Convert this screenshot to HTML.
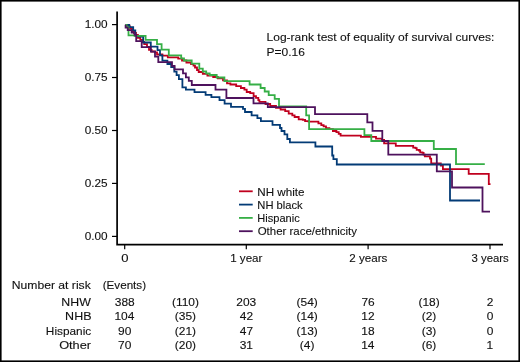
<!DOCTYPE html>
<html><head><meta charset="utf-8"><style>
html,body{margin:0;padding:0;background:#fff;}
body{width:520px;height:362px;overflow:hidden;}
svg{display:block;will-change:transform;}
text{font-family:"Liberation Sans",sans-serif;font-size:11.6px;fill:#111;stroke:#111;stroke-width:0.12px;}
</style></head><body>
<svg width="520" height="362" viewBox="0 0 520 362">
<path d="M117.1 11.6 L117.1 244.6 L503 244.6" fill="none" stroke="#000" stroke-width="1.7" stroke-linejoin="miter"/>
<line x1="112" y1="24.6" x2="117.1" y2="24.6" stroke="#000" stroke-width="1.2"/>
<line x1="112" y1="77.5" x2="117.1" y2="77.5" stroke="#000" stroke-width="1.2"/>
<line x1="112" y1="130.5" x2="117.1" y2="130.5" stroke="#000" stroke-width="1.2"/>
<line x1="112" y1="183.4" x2="117.1" y2="183.4" stroke="#000" stroke-width="1.2"/>
<line x1="112" y1="236.4" x2="117.1" y2="236.4" stroke="#000" stroke-width="1.2"/>
<line x1="124.7" y1="244.6" x2="124.7" y2="249.3" stroke="#000" stroke-width="1.2"/>
<line x1="246.3" y1="244.6" x2="246.3" y2="249.3" stroke="#000" stroke-width="1.2"/>
<line x1="368.1" y1="244.6" x2="368.1" y2="249.3" stroke="#000" stroke-width="1.2"/>
<line x1="490.0" y1="244.6" x2="490.0" y2="249.3" stroke="#000" stroke-width="1.2"/>
<path d="M125.6 24.8 L128.0 24.8 L128.0 26.5 L130.0 26.5 L130.0 28.5 L132.0 28.5 L132.0 31.0 L134.0 31.0 L134.0 33.0 L136.0 33.0 L136.0 35.0 L137.9 35.0 L137.9 37.8 L140.3 37.8 L140.3 39.8 L142.5 39.8 L142.5 42.0 L144.2 42.0 L144.2 44.1 L147.0 44.1 L147.0 47.0 L149.0 47.0 L149.0 49.9 L151.6 49.9 L151.6 51.5 L155.0 51.5 L155.0 52.4 L157.0 52.4 L157.0 54.5 L162.4 54.5 L162.4 55.7 L167.8 55.7 L167.8 57.4 L178.2 57.4 L178.2 58.6 L182.0 58.6 L182.0 60.5 L186.4 60.5 L186.4 62.5 L191.0 62.5 L191.0 64.2 L193.5 64.2 L193.5 65.7 L195.0 65.7 L195.0 67.5 L197.0 67.5 L197.0 70.0 L198.7 70.0 L198.7 72.0 L202.8 72.0 L202.8 73.8 L207.4 73.8 L207.4 75.6 L213.2 75.6 L213.2 77.0 L217.8 77.0 L217.8 78.3 L223.0 78.3 L223.0 80.3 L227.0 80.3 L227.0 83.3 L230.4 83.3 L230.4 84.5 L236.2 84.5 L236.2 86.2 L240.9 86.2 L240.9 88.0 L244.4 88.0 L244.4 89.7 L246.7 89.7 L246.7 92.0 L250.2 92.0 L250.2 93.2 L253.6 93.2 L253.6 96.1 L256.0 96.1 L256.0 97.8 L258.3 97.8 L258.3 100.2 L259.4 100.2 L259.4 101.9 L265.5 101.9 L265.5 104.0 L270.2 104.0 L270.2 106.0 L276.0 106.0 L276.0 107.8 L280.6 107.8 L280.6 109.5 L285.2 109.5 L285.2 111.2 L288.7 111.2 L288.7 113.6 L292.3 113.6 L292.3 115.3 L294.6 115.3 L294.6 117.0 L298.7 117.0 L298.7 119.4 L302.8 119.4 L302.8 119.9 L305.1 119.9 L305.1 121.1 L308.6 121.1 L308.6 121.7 L315.5 121.7 L318.4 121.7 L318.4 123.4 L321.3 123.4 L321.3 125.2 L323.6 125.2 L323.6 126.3 L326.0 126.3 L326.0 128.1 L329.4 128.1 L329.4 129.2 L332.9 129.2 L332.9 131.0 L336.4 131.0 L336.4 132.1 L338.7 132.1 L338.7 133.9 L340.6 133.9 L340.6 135.7 L360.9 135.7 L360.9 136.9 L373.6 136.9 L376.0 136.9 L376.0 138.6 L381.8 138.6 L381.8 139.8 L384.1 139.8 L384.1 143.3 L395.8 143.3 L395.8 143.6 L395.8 145.9 L412.0 145.9 L413.2 145.9 L413.2 147.6 L415.5 147.6 L415.5 148.2 L416.7 148.2 L416.7 149.9 L419.0 149.9 L419.0 150.5 L420.2 150.5 L420.2 152.3 L422.5 152.3 L422.5 152.8 L423.6 152.8 L423.6 154.6 L424.8 154.6 L424.8 156.3 L430.0 156.3 L430.0 158.6 L431.2 158.6 L431.2 163.3 L440.8 163.3 L440.8 165.7 L442.9 165.7 L442.9 166.4 L442.9 169.1 L468.7 169.1 L468.7 173.8 L488.8 173.8 L488.8 184.2 L490.5 184.2" fill="none" stroke="#C0001E" stroke-width="1.8" stroke-linejoin="miter" stroke-linecap="butt"/>
<path d="M125.6 24.8 L129.3 24.8 L129.3 27.2 L133.2 27.2 L133.2 30.4 L135.3 30.4 L135.3 35.9 L139.0 35.9 L139.0 36.5 L143.2 36.5 L143.2 42.5 L150.8 42.5 L150.8 46.6 L157.5 46.6 L157.5 50.1 L160.0 50.1 L160.0 55.3 L162.4 55.3 L162.4 60.7 L167.4 60.7 L167.4 64.0 L171.2 64.0 L171.2 67.2 L174.3 67.2 L174.3 71.6 L176.6 71.6 L176.6 75.1 L178.9 75.1 L178.9 79.1 L182.4 79.1 L182.4 87.3 L185.9 87.3 L185.9 89.6 L194.5 89.6 L194.5 92.2 L205.6 92.2 L205.6 94.8 L211.4 94.8 L211.4 97.1 L219.5 97.1 L219.5 100.2 L224.6 100.2 L224.6 103.6 L231.0 103.6 L231.0 106.9 L243.0 106.9 L243.0 108.9 L245.0 108.9 L245.0 112.0 L251.6 112.0 L251.6 115.3 L257.4 115.3 L257.4 118.2 L260.9 118.2 L260.9 121.1 L272.5 121.1 L272.5 124.9 L280.0 124.9 L280.0 128.0 L281.5 128.0 L281.5 131.0 L284.5 131.0 L284.5 134.4 L287.3 134.4 L287.3 139.0 L289.9 139.0 L289.9 142.4 L315.4 142.4 L315.4 146.5 L332.2 146.5 L332.2 155.5 L333.4 155.5 L333.4 159.2 L336.8 159.2 L336.8 164.5 L450.0 164.5 L450.0 200.5 L480.0 200.5" fill="none" stroke="#033B76" stroke-width="1.8" stroke-linejoin="miter" stroke-linecap="butt"/>
<path d="M125.6 24.8 L126.6 24.8 L126.6 27.2 L128.5 27.2 L128.5 35.4 L134.5 35.4 L134.5 35.9 L145.6 35.9 L145.6 39.9 L157.0 39.9 L157.0 44.1 L161.6 44.1 L161.6 49.7 L168.8 49.7 L168.8 55.3 L181.2 55.3 L181.2 58.4 L184.0 58.4 L184.0 60.5 L191.7 60.5 L191.7 63.6 L199.3 63.6 L199.3 68.6 L202.8 68.6 L202.8 71.5 L206.2 71.5 L206.2 73.5 L209.7 73.5 L209.7 75.0 L216.7 75.0 L216.7 77.5 L224.4 77.5 L224.4 81.2 L249.6 81.2 L249.6 84.5 L260.6 84.5 L260.6 88.0 L264.7 88.0 L264.7 91.5 L268.7 91.5 L268.7 95.2 L274.7 95.2 L274.7 98.8 L279.0 98.8 L279.0 106.3 L306.2 106.3 L306.2 115.3 L309.1 115.3 L309.1 129.1 L364.4 129.1 L364.4 135.2 L371.3 135.2 L371.3 141.0 L433.8 141.0 L433.8 149.0 L456.0 149.0 L456.0 164.1 L484.8 164.1" fill="none" stroke="#36AF46" stroke-width="1.8" stroke-linejoin="miter" stroke-linecap="butt"/>
<path d="M125.6 24.8 L125.6 24.8 L125.6 27.7 L127.7 27.7 L127.7 30.1 L131.6 30.1 L131.6 32.5 L134.5 32.5 L134.5 34.9 L136.2 34.9 L136.2 41.2 L141.7 41.2 L141.7 47.2 L150.9 47.2 L150.9 51.6 L155.0 51.6 L155.0 56.6 L158.3 56.6 L158.3 62.2 L172.0 62.2 L172.0 66.0 L174.6 66.0 L174.6 69.3 L183.0 69.3 L183.0 73.3 L185.9 73.3 L185.9 77.4 L188.8 77.4 L188.8 80.9 L191.8 80.9 L191.8 85.0 L215.5 85.0 L215.5 89.7 L226.4 89.7 L226.4 98.0 L253.5 98.0 L253.5 103.3 L267.8 103.3 L267.8 107.1 L315.0 107.1 L315.0 114.1 L367.3 114.1 L367.3 122.4 L372.5 122.4 L372.5 130.8 L382.3 130.8 L382.3 141.0 L388.3 141.0 L388.3 154.6 L436.8 154.6 L436.8 171.3 L452.0 171.3 L452.0 187.5 L482.5 187.5 L482.5 211.7 L490.0 211.7" fill="none" stroke="#4E125D" stroke-width="1.8" stroke-linejoin="miter" stroke-linecap="butt"/>
<line x1="239" y1="191.3" x2="252.7" y2="191.3" stroke="#C0001E" stroke-width="1.8"/>
<line x1="239" y1="204.6" x2="252.7" y2="204.6" stroke="#033B76" stroke-width="1.8"/>
<line x1="239" y1="217.9" x2="252.7" y2="217.9" stroke="#36AF46" stroke-width="1.8"/>
<line x1="239" y1="231.2" x2="252.7" y2="231.2" stroke="#4E125D" stroke-width="1.8"/>
<text x="266.57" y="41.3" textLength="227.69" lengthAdjust="spacingAndGlyphs">Log-rank test of equality of survival curves:</text>
<text x="266.57" y="55.7" textLength="38.30" lengthAdjust="spacingAndGlyphs">P=0.16</text>
<text x="257.30" y="195.6" textLength="47.26" lengthAdjust="spacingAndGlyphs">NH white</text>
<text x="257.33" y="208.9" textLength="45.37" lengthAdjust="spacingAndGlyphs">NH black</text>
<text x="257.34" y="222.2" textLength="42.34" lengthAdjust="spacingAndGlyphs">Hispanic</text>
<text x="257.71" y="235.4" textLength="99.29" lengthAdjust="spacingAndGlyphs">Other race/ethnicity</text>
<text x="84.74" y="27.9" textLength="22.92" lengthAdjust="spacingAndGlyphs">1.00</text>
<text x="84.74" y="80.8" textLength="22.92" lengthAdjust="spacingAndGlyphs">0.75</text>
<text x="84.74" y="133.8" textLength="22.92" lengthAdjust="spacingAndGlyphs">0.50</text>
<text x="84.74" y="186.8" textLength="22.92" lengthAdjust="spacingAndGlyphs">0.25</text>
<text x="84.74" y="239.7" textLength="22.92" lengthAdjust="spacingAndGlyphs">0.00</text>
<text x="121.15" y="262.0" textLength="7.26" lengthAdjust="spacingAndGlyphs">0</text>
<text x="230.20" y="262.0" textLength="32.26" lengthAdjust="spacingAndGlyphs">1 year</text>
<text x="349.30" y="262.0" textLength="38.10" lengthAdjust="spacingAndGlyphs">2 years</text>
<text x="471.51" y="262.0" textLength="37.28" lengthAdjust="spacingAndGlyphs">3 years</text>
<text x="11.76" y="288.9" textLength="79.04" lengthAdjust="spacingAndGlyphs">Number at risk</text>
<text x="102.70" y="288.9" textLength="43.37" lengthAdjust="spacingAndGlyphs">(Events)</text>
<text x="61.34" y="305.7" textLength="29.50" lengthAdjust="spacingAndGlyphs">NHW</text>
<text x="114.76" y="305.7" textLength="19.93" lengthAdjust="spacingAndGlyphs">388</text>
<text x="171.98" y="305.7" textLength="27.01" lengthAdjust="spacingAndGlyphs">(110)</text>
<text x="236.31" y="305.7" textLength="19.93" lengthAdjust="spacingAndGlyphs">203</text>
<text x="296.56" y="305.7" textLength="21.25" lengthAdjust="spacingAndGlyphs">(54)</text>
<text x="361.43" y="305.7" textLength="13.29" lengthAdjust="spacingAndGlyphs">76</text>
<text x="418.41" y="305.7" textLength="21.25" lengthAdjust="spacingAndGlyphs">(18)</text>
<text x="486.70" y="305.7" textLength="6.64" lengthAdjust="spacingAndGlyphs">2</text>
<text x="65.13" y="320.1" textLength="26.35" lengthAdjust="spacingAndGlyphs">NHB</text>
<text x="114.45" y="320.1" textLength="19.93" lengthAdjust="spacingAndGlyphs">104</text>
<text x="174.86" y="320.1" textLength="21.25" lengthAdjust="spacingAndGlyphs">(35)</text>
<text x="239.84" y="320.1" textLength="13.29" lengthAdjust="spacingAndGlyphs">42</text>
<text x="296.56" y="320.1" textLength="21.25" lengthAdjust="spacingAndGlyphs">(14)</text>
<text x="361.33" y="320.1" textLength="13.29" lengthAdjust="spacingAndGlyphs">12</text>
<text x="421.73" y="320.1" textLength="14.60" lengthAdjust="spacingAndGlyphs">(2)</text>
<text x="486.70" y="320.1" textLength="6.64" lengthAdjust="spacingAndGlyphs">0</text>
<text x="45.88" y="334.6" textLength="45.32" lengthAdjust="spacingAndGlyphs">Hispanic</text>
<text x="118.03" y="334.6" textLength="13.29" lengthAdjust="spacingAndGlyphs">90</text>
<text x="174.86" y="334.6" textLength="21.25" lengthAdjust="spacingAndGlyphs">(21)</text>
<text x="239.84" y="334.6" textLength="13.29" lengthAdjust="spacingAndGlyphs">47</text>
<text x="296.56" y="334.6" textLength="21.25" lengthAdjust="spacingAndGlyphs">(13)</text>
<text x="361.28" y="334.6" textLength="13.29" lengthAdjust="spacingAndGlyphs">18</text>
<text x="421.73" y="334.6" textLength="14.60" lengthAdjust="spacingAndGlyphs">(3)</text>
<text x="486.70" y="334.6" textLength="6.64" lengthAdjust="spacingAndGlyphs">0</text>
<text x="59.15" y="348.8" textLength="31.93" lengthAdjust="spacingAndGlyphs">Other</text>
<text x="118.03" y="348.8" textLength="13.29" lengthAdjust="spacingAndGlyphs">70</text>
<text x="174.86" y="348.8" textLength="21.25" lengthAdjust="spacingAndGlyphs">(20)</text>
<text x="239.73" y="348.8" textLength="13.29" lengthAdjust="spacingAndGlyphs">31</text>
<text x="299.88" y="348.8" textLength="14.60" lengthAdjust="spacingAndGlyphs">(4)</text>
<text x="361.17" y="348.8" textLength="13.29" lengthAdjust="spacingAndGlyphs">14</text>
<text x="421.73" y="348.8" textLength="14.60" lengthAdjust="spacingAndGlyphs">(6)</text>
<text x="486.55" y="348.8" textLength="6.64" lengthAdjust="spacingAndGlyphs">1</text>
<rect x="0" y="0" width="520" height="362" fill="none" stroke="#000" stroke-width="3.2"/>
</svg>
</body></html>
